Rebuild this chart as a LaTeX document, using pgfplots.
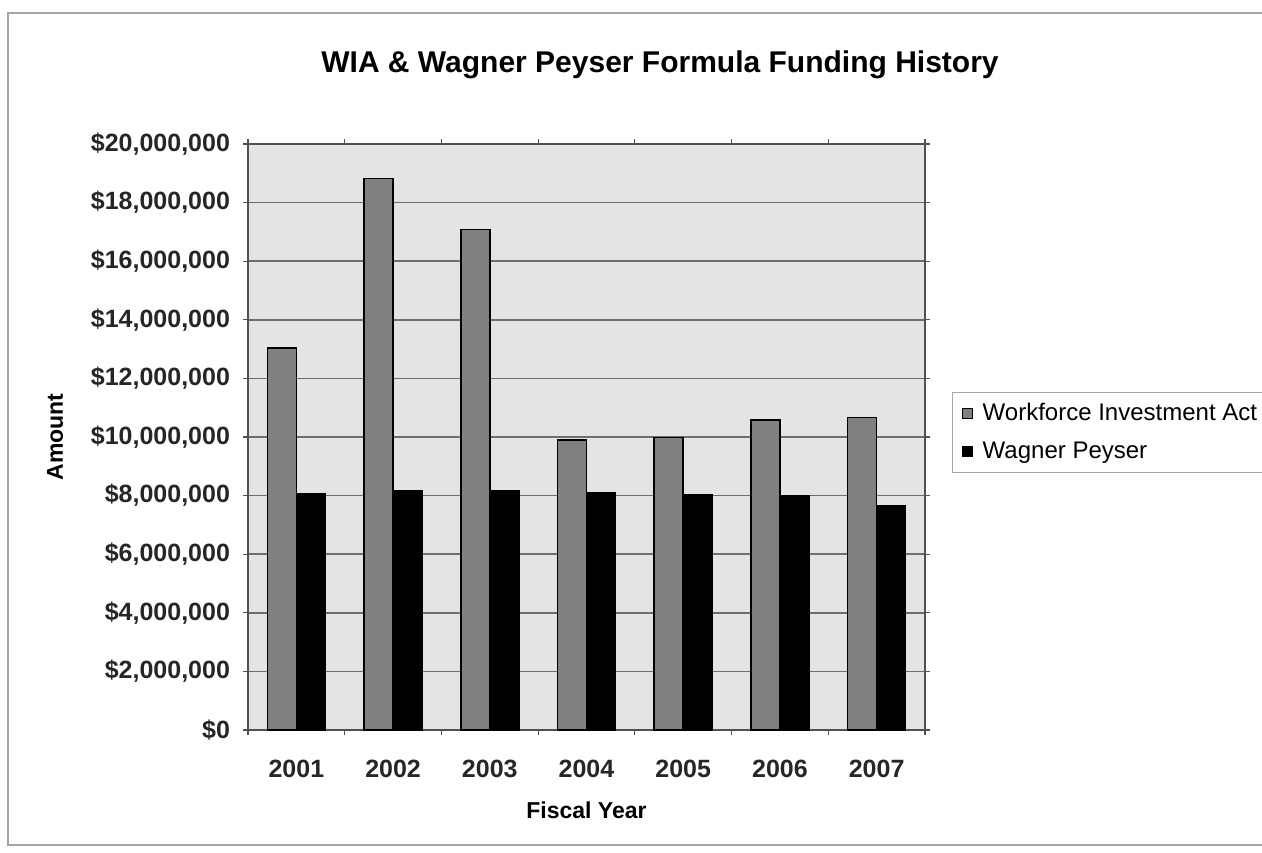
\documentclass[border=0pt]{standalone}
\usepackage{fontspec}
\setmainfont{Liberation Sans}
\usepackage{pgfplots}
\pgfplotsset{compat=1.18}
\definecolor{bg}{RGB}{228,228,228}
\definecolor{wia}{RGB}{128,128,128}
\definecolor{gridc}{RGB}{110,110,110}
\definecolor{framec}{RGB}{165,165,165}
\definecolor{axc}{RGB}{80,80,80}
\begin{document}
\begin{tikzpicture}[x=0.5pt,y=0.5pt]
\useasboundingbox (0,0) rectangle (1262,852);
\clip (0,0) rectangle (1262,852);
\fill[white] (0,0) rectangle (1262,852);
\draw[framec, line width=1pt] (1262,839) -- (8,839) -- (8,7) -- (1262,7);
\node[font=\bfseries\fontsize{15}{18}\selectfont] at (660,787) {WIA \& Wagner Peyser Formula Funding History};
\begin{axis}[
  at={(124pt,61pt)}, anchor=south west,
  scale only axis, width=338.5pt, height=293pt,
  axis background/.style={fill=bg},
  ybar=0pt, bar width=0.3,
  xmin=-0.5, xmax=6.5, ymin=0, ymax=20000000,
  xtick={0,1,2,3,4,5,6},
  xticklabels={2001,2002,2003,2004,2005,2006,2007},
  major x tick style={draw=none},
  minor xtick={-0.5,0.5,1.5,2.5,3.5,4.5,5.5,6.5},
  minor x tick style={draw=axc, line width=0.6pt},
  minor tick length=2.5pt,
  ytick={0,2000000,4000000,6000000,8000000,10000000,12000000,14000000,16000000,18000000,20000000},
  major tick length=2.5pt,
  tick align=outside,
  y tick style={draw=axc, line width=0.6pt},
  scaled y ticks=false,
  yticklabel={\$\pgfmathprintnumber{\tick}},
  yticklabel style={/pgf/number format/fixed, /pgf/number format/precision=0, /pgf/number format/1000 sep={,}, xshift=-3pt},
  /pgf/number format/assume math mode=true,
  ticklabel style={font=\bfseries\fontsize{12.5}{14}\selectfont, text=black!85},
  xticklabel style={yshift=-9pt},
  ymajorgrids,
  major grid style={draw=gridc, line width=0.8pt},
  axis line style={draw=axc, line width=0.6pt},
  xlabel={Fiscal Year},
  xlabel style={font=\bfseries\fontsize{11.5}{14}\selectfont, at={(axis description cs:0.5,0)}, anchor=center, yshift=-40pt},
  ylabel={Amount},
  ylabel style={font=\bfseries\fontsize{11.5}{14}\selectfont, at={(axis description cs:-0.285,0.5)}, anchor=center},
  legend style={at={(1.040,0.5768)}, anchor=north west, draw=framec, fill=white,
    font=\fontsize{12}{14}\selectfont, row sep=5pt, inner xsep=5pt, inner ysep=3.5pt,
    cells={anchor=west}},
  legend image code/.code={\draw[#1,draw=black,line width=0.5pt] (0pt,-2.5pt) rectangle (5pt,2.5pt); \path (7.5pt,0pt);},
]
\addplot[fill=wia, draw=black, line width=0.75pt] coordinates {
  (0,13030000) (1,18830000) (2,17090000) (3,9900000) (4,9990000) (5,10580000) (6,10670000)};
\addplot[fill=black, draw=black, line width=0.75pt] coordinates {
  (0,8080000) (1,8170000) (2,8170000) (3,8110000) (4,8040000) (5,8000000) (6,7650000)};
\legend{Workforce Investment Act, Wagner Peyser}
\end{axis}
\end{tikzpicture}
\end{document}
